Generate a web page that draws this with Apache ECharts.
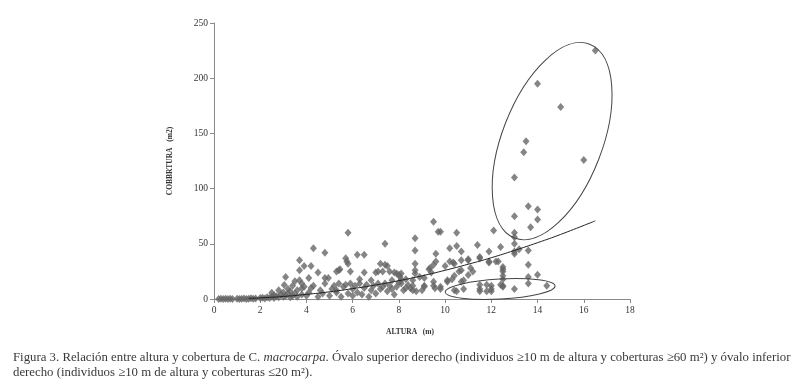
<!DOCTYPE html>
<html>
<head>
<meta charset="utf-8">
<script src="https://cdn.jsdelivr.net/npm/echarts@6/dist/echarts.min.js"></script>
<style>
  html, body { margin: 0; padding: 0; background: #fff; }
  #chart { width: 796px; height: 384px; }
</style>
</head>
<body>
<div id="chart"></div>
<script>
// Puntos: [altura (m), cobertura (m2)]
var filaCero = [[0.2,0],[0.3,0.2],[0.4,0],[0.5,0.3],[0.6,0],[0.7,0.2],[0.8,0],[1.0,0.3],[1.1,0],[1.2,0.2],
  [1.3,0.5],[1.4,0],[1.5,0.3],[1.6,0.6],[1.7,0.2],[1.8,0.4],[2.0,0.8],[2.1,1.2],[2.2,0.5],[2.3,1.5],[2.4,0.8]];
var puntosBajos = [[2.5,2],[2.5,5.7],[2.6,1],[2.6,3.5],[2.7,2.5],[2.8,8],[2.8,1.5],[2.9,4],[3.0,2],[3.0,6],
  [3.04,12.7],[3.1,20],[3.1,3],[3.2,9],[3.2,5],[3.3,1.5],[3.3,7],[3.4,12],[3.4,3],[3.5,5],[3.5,16],[3.6,2],
  [3.6,8],[3.7,35],[3.7,26],[3.7,17],[3.8,9.7],[3.8,14],[3.8,4],[3.9,30],[3.9,11],[4.0,3]];
var puntosMedios = [[4.1,19],[4.1,6],[4.2,30],[4.2,10],[4.3,46],[4.3,12],[4.5,24],[4.5,2],[4.6,8],[4.7,5],
  [4.8,42],[4.8,19],[4.8,14],[4.95,19],[5.0,3],[5.1,9],[5.2,12],[5.3,25],[5.3,8],[5.3,6],[5.4,26],[5.45,27],
  [5.4,14],[5.5,2],[5.6,11],[5.7,37],[5.7,13],[5.75,34],[5.8,60],[5.8,32],[5.8,5],[5.9,25],[5.9,14],[6.0,9],
  [6.0,3],[6.1,12],[6.2,40],[6.2,6],[6.3,18],[6.3,14],[6.4,4],[6.5,40],[6.5,24],[6.5,10],[6.6,13],[6.7,2],
  [6.8,17],[6.8,8],[6.9,12],[7.0,24],[7.0,5],[7.1,25],[7.1,14],[7.2,32],[7.2,9],[7.3,25],[7.3,11],[7.4,50],
  [7.4,31],[7.4,14],[7.5,30],[7.5,7],[7.6,25],[7.6,12],[7.7,17],[7.7,9],[7.8,24],[7.8,4],[7.9,23],[7.9,11],
  [8.0,22],[8.0,15]];
var puntosAltos = [[8.05,20],[8.1,23],[8.1,17],[8.1,14],[8.2,8],[8.3,18],[8.3,10],[8.4,12.7],[8.5,9.7],[8.6,17],
  [8.6,12],[8.6,8],[8.7,55],[8.7,44],[8.7,32],[8.7,26],[8.7,23],[8.75,7],[8.9,20],[9.0,8],[9.1,19],[9.1,12],
  [9.1,11],[9.3,27],[9.35,28],[9.4,24],[9.5,70],[9.5,31],[9.5,15.7],[9.5,12],[9.56,9.7],[9.6,41],[9.6,34],
  [9.7,61],[9.8,61],[9.8,11],[9.8,9],[10.0,30],[10.1,17],[10.1,15.7],[10.2,46],[10.2,34],[10.3,18],[10.35,33],
  [10.4,32],[10.4,21],[10.5,60],[10.5,48],[10.5,7],[10.6,25],[10.7,43],[10.7,35],[10.7,26],[10.7,15.7],
  [10.8,17],[11.0,36],[11.0,35],[11.0,21.7],[11.1,28],[11.2,25],[11.4,49],[11.5,38],[11.5,37],[11.9,43],
  [11.9,34],[11.9,33]];
var puntosDerecha = [[12.1,62],[12.2,34],[12.3,34],[12.4,47],[12.5,29],[12.5,27],[12.5,25],[12.5,21],[12.5,18],
  [13.0,50],[13.0,43],[13.0,41],[13.2,45],[13.6,44],[13.6,31],[13.6,20],[13.6,14],[14.0,22]];
var ovaloInferior = [[10.4,8],[10.8,9],[11.5,13],[11.5,9],[11.5,7],[11.8,7],[11.8,13],[12.0,12],[12.0,9],
  [12.0,7],[12.4,13],[12.5,12],[12.5,11],[13.0,9],[14.4,12]];
var ovaloSuperior = [[16.5,225],[14.0,195],[15.0,174],[13.5,143],[13.4,133],[16.0,126],[13.0,110],[13.6,84],
  [14.0,81],[13.0,75],[14.0,72],[13.7,65],[13.0,60],[13.0,56]];
// línea de tendencia
var tendencia = [[1.5,0.6],[2,1],[3,2.3],[4,4.2],[5,6.5],[6,9.4],[7,12.7],[8,16.6],[9,21],[10,26],
  [11,31.5],[12,37.4],[13,44],[14,51],[15,58.5],[16.5,70.8]];
// centros de los óvalos en unidades de datos
var centroSuperior = [14.63, 143];
var centroInferior = [12.38, 9];

var fuente = 'Liberation Serif';
var todos = filaCero.concat(puntosBajos, puntosMedios, puntosAltos, puntosDerecha, ovaloInferior, ovaloSuperior);

var chart = echarts.init(document.getElementById('chart'));

var option = {
  animation: false,
  title: {
    left: 8,
    top: 345,
    text: 'Figura 3. Relación entre altura y cobertura de C. {i|macrocarpa}. Óvalo superior derecho (individuos ≥10 m de altura y coberturas ≥60 m²) y óvalo inferior\nderecho (individuos ≥10 m de altura y coberturas ≤20 m²).',
    textStyle: {
      fontFamily: fuente, fontSize: 12.8, fontWeight: 'normal', color: '#3a3a3a', lineHeight: 15,
      rich: { i: { fontFamily: fuente, fontSize: 12.8, fontStyle: 'italic', color: '#3a3a3a' } }
    }
  },
  grid: { left: 214, right: 166, top: 23, bottom: 85 },
  xAxis: {
    type: 'value', min: 0, max: 18, interval: 2,
    name: 'ALTURA   (m)', nameLocation: 'middle', nameGap: 29,
    nameTextStyle: { fontFamily: fuente, fontSize: 7.5, fontWeight: 'bold', color: '#333', padding: [0, 24, 0, 0] },
    axisLine: { lineStyle: { color: '#8a8a8a', width: 1 } },
    axisTick: { show: true, length: 4, lineStyle: { color: '#8a8a8a' } },
    axisLabel: { fontFamily: fuente, fontSize: 9.5, color: '#333', margin: 6 },
    splitLine: { show: false }
  },
  yAxis: {
    type: 'value', min: 0, max: 250, interval: 50,
    name: 'COBBRTURA   (m2)', nameLocation: 'middle', nameGap: 40, nameRotate: 90,
    nameTextStyle: { fontFamily: fuente, fontSize: 7.5, fontWeight: 'bold', color: '#333' },
    axisLine: { show: true, lineStyle: { color: '#8a8a8a', width: 1 } },
    axisTick: { show: true, length: 4, lineStyle: { color: '#8a8a8a' } },
    axisLabel: { fontFamily: fuente, fontSize: 9.5, color: '#333', margin: 6 },
    splitLine: { show: false }
  },
  series: [
    {
      type: 'scatter',
      data: todos,
      symbol: 'diamond',
      symbolSize: [7, 8],
      itemStyle: { color: '#666' },
      z: 2
    },
    {
      type: 'line',
      data: tendencia,
      smooth: true,
      showSymbol: false,
      lineStyle: { color: '#222', width: 1 },
      z: 3
    }
  ]
};

chart.setOption(option);

// óvalos dibujados sobre la figura
var pSup = chart.convertToPixel({ gridIndex: 0 }, centroSuperior);
var pInf = chart.convertToPixel({ gridIndex: 0 }, centroInferior);
chart.setOption({
  graphic: [
    {
      type: 'ellipse', x: pSup[0], y: pSup[1], rotation: -0.37,
      shape: { cx: 0, cy: 0, rx: 50, ry: 104 },
      style: { fill: 'none', stroke: '#444', lineWidth: 1 }, z: 10
    },
    {
      type: 'ellipse', x: pInf[0], y: pInf[1], rotation: 0.055,
      shape: { cx: 0, cy: 0, rx: 55, ry: 10 },
      style: { fill: 'none', stroke: '#444', lineWidth: 1 }, z: 10
    }
  ]
});
</script>
</body>
</html>
